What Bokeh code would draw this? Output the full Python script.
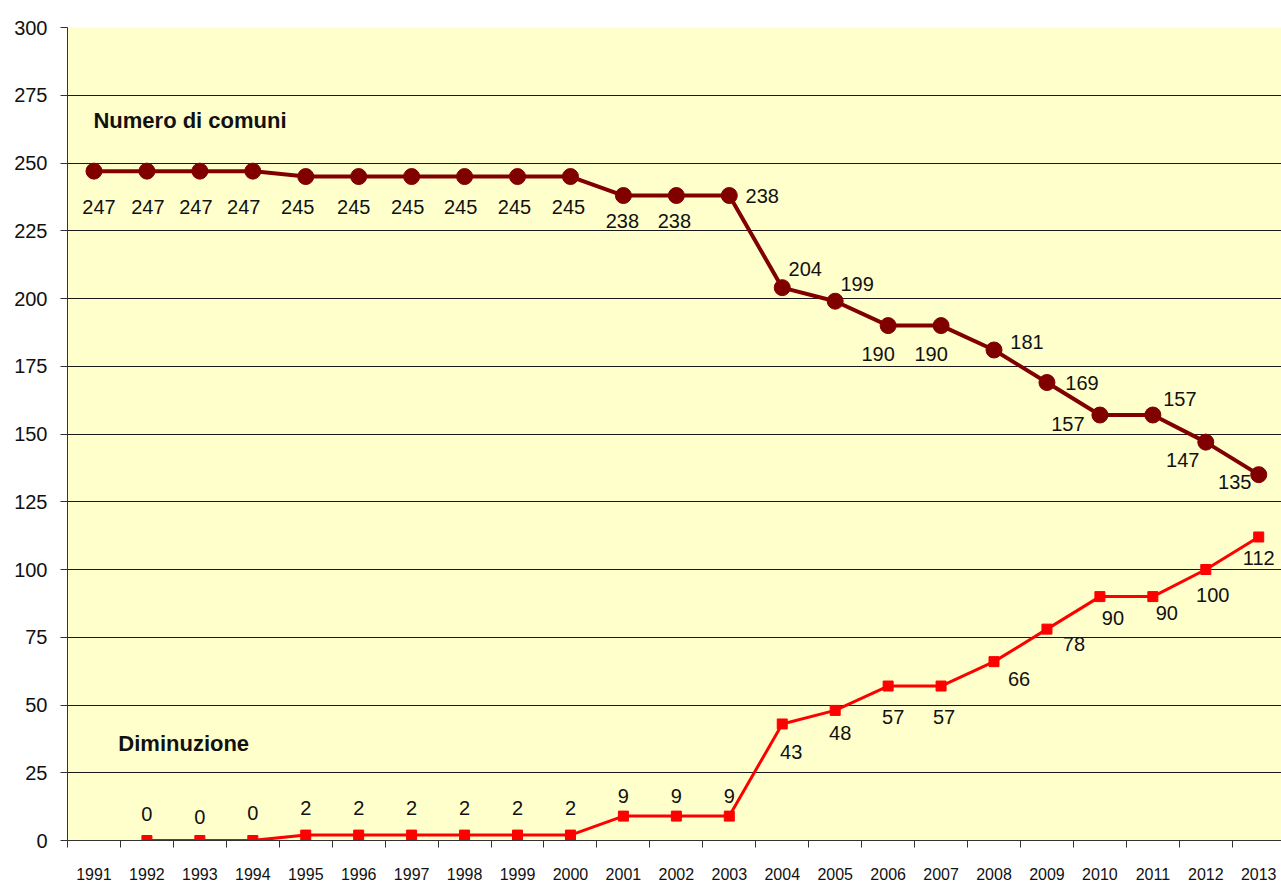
from bokeh.plotting import figure
from bokeh.models import ColumnDataSource, Range1d, FixedTicker, Label
from bokeh.core.properties import value
from bokeh.embed import file_html
from bokeh.resources import INLINE

# ---- data ----
years = list(range(1991, 2014))
tick_labels = [str(y) for y in years]
comuni = [247, 247, 247, 247, 245, 245, 245, 245, 245, 245, 238, 238, 238,
          204, 199, 190, 190, 181, 169, 157, 157, 147, 135]
dim_years = list(range(1992, 2014))
diminuzione = [0, 0, 0, 2, 2, 2, 2, 2, 2, 9, 9, 9,
               43, 48, 57, 57, 66, 78, 90, 90, 100, 112]
y_ticks = list(range(0, 301, 25))

# ---- label placement (style, screen pixels) ----
comuni_dx = [5, 1, -4, -9, -8, -5, -4, -4, -3, -2, -1, -2, 33, 23, 22, -10, -10, 33, 35, -32, 27, -23, -24]
comuni_dy = [36, 36, 36, 36, 30, 30, 30, 30, 30, 30, 25, 25, 0, -19, -17, 28, 28, -8, 0, 9, -16, 18, 7]
dim_dx = [0] * 12 + [9, 5, 5, 3, 25, 27, 13, 14, 7, 0]
dim_dy = [-27, -24, -28, -27, -27, -27, -27, -27, -27, -20, -20, -20, 28, 23, 31, 31, 17, 15, 21, 16, 25, 21]

FONT = "Liberation Sans"
MAROON = "#800000"
RED = "#FF0000"

src_c = ColumnDataSource(dict(x=years, y=comuni, lab=[str(v) for v in comuni],
                              dx=comuni_dx, dy=comuni_dy))
src_d = ColumnDataSource(dict(x=dim_years, y=diminuzione, lab=[str(v) for v in diminuzione],
                              dx=dim_dx, dy=dim_dy))

p = figure(width=1281, height=882, output_backend="svg", toolbar_location=None,
           x_range=Range1d(1990.5, 2013.43), y_range=Range1d(0, 300),
           min_border_left=67, min_border_right=0, min_border_top=27, min_border_bottom=42)

p.background_fill_color = "#FFFFCC"
p.border_fill_color = "white"
p.outline_line_color = None

# grid
p.xgrid.grid_line_color = None
p.ygrid.grid_line_color = "#1a1a1a"
p.ygrid.grid_line_width = 1
p.ygrid.ticker = FixedTicker(ticks=y_ticks)

# y axis
p.yaxis.ticker = FixedTicker(ticks=y_ticks)
p.yaxis.axis_line_color = "#333333"
p.yaxis.major_tick_line_color = "#333333"
p.yaxis.major_tick_out = 7
p.yaxis.major_tick_in = 0
p.yaxis.minor_tick_line_color = None
p.yaxis.major_label_standoff = 13
p.yaxis.major_label_text_font = FONT
p.yaxis.major_label_text_font_size = "20px"
p.yaxis.major_label_text_color = "#111111"

# x axis
p.xaxis.ticker = FixedTicker(ticks=years, minor_ticks=[y + 0.5 for y in range(1990, 2014)])
p.xaxis.major_label_overrides = {y: s for y, s in zip(years, tick_labels)}
p.xaxis.axis_line_color = "#333333"
p.xaxis.major_tick_line_color = None
p.xaxis.major_tick_out = 0
p.xaxis.major_tick_in = 0
p.xaxis.minor_tick_line_color = "#333333"
p.xaxis.minor_tick_out = 7
p.xaxis.minor_tick_in = 0
p.xaxis.major_label_standoff = 20
p.xaxis.major_label_text_font = FONT
p.xaxis.major_label_text_font_size = "16px"
p.xaxis.major_label_text_color = "#111111"

# series
p.line("x", "y", source=src_c, line_color=MAROON, line_width=4)
p.scatter("x", "y", source=src_c, marker="circle", size=16, fill_color=MAROON, line_color=MAROON)
p.line("x", "y", source=src_d, line_color=RED, line_width=3)
p.scatter("x", "y", source=src_d, marker="square", size=10, fill_color=RED, line_color=RED)

p.text("x", "y", text="lab", source=src_c, x_offset="dx", y_offset="dy",
       text_font=value(FONT), text_font_size="20px", text_color="#111111",
       text_align="center", text_baseline="middle")
p.text("x", "y", text="lab", source=src_d, x_offset="dx", y_offset="dy",
       text_font=value(FONT), text_font_size="20px", text_color="#111111",
       text_align="center", text_baseline="middle")

p.add_layout(Label(x=1990.99, y=265.7, text="Numero di comuni", text_font=FONT,
                   text_font_size="22px", text_font_style="bold", text_color="#111111",
                   text_baseline="middle"))
p.add_layout(Label(x=1991.46, y=35.8, text="Diminuzione", text_font=FONT,
                   text_font_size="22px", text_font_style="bold", text_color="#111111",
                   text_baseline="middle"))

open("out.html", "w").write(file_html(p, INLINE))
